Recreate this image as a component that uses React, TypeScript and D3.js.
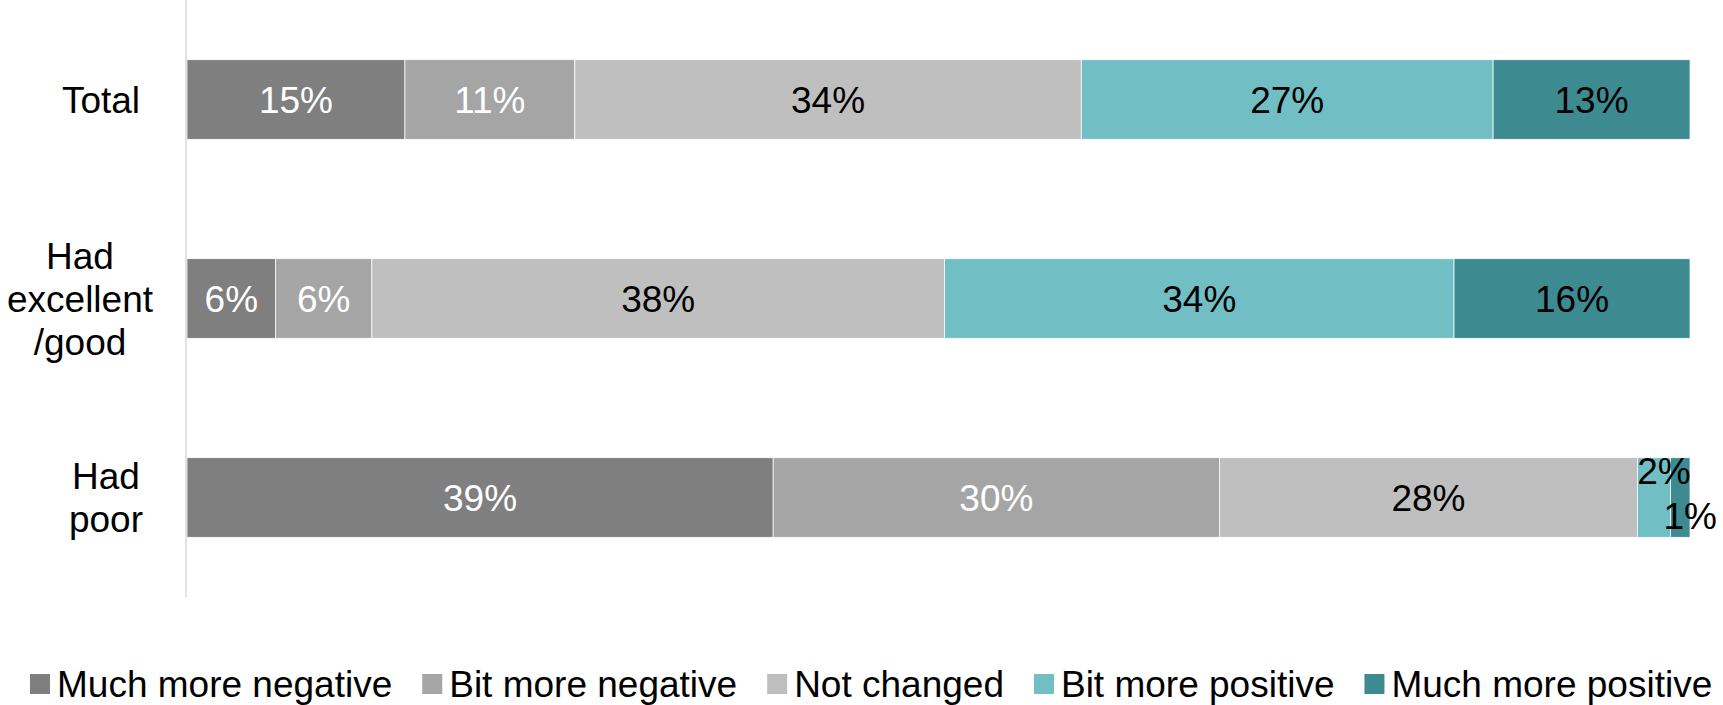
import React, { useMemo } from "react";
import * as d3 from "d3";

const categories = ["Total", "Had excellent/good", "Had poor"];
const categoryLines = [["Total"], ["Had", "excellent", "/good"], ["Had", "poor"]];
const seriesNames = [
  "Much more negative",
  "Bit more negative",
  "Not changed",
  "Bit more positive",
  "Much more positive",
];
const muchMoreNegative = [14.5, 5.9, 39.0];
const bitMoreNegative = [11.3, 6.4, 29.7];
const notChanged = [33.7, 38.1, 27.8];
const bitMorePositive = [27.4, 33.9, 2.2];
const muchMorePositive = [13.1, 15.7, 1.3];
const colors = ["#7f7f7f", "#a5a5a5", "#bfbfbf", "#72bec5", "#3d8a91"];
const labelColors = ["#ffffff", "#ffffff", "#000000", "#000000", "#000000"];

const W = 1723;
const H = 705;
const FONT = "'Liberation Sans', Arial, sans-serif";
const FS = 37;

export default function App() {
  const seriesValues = [muchMoreNegative, bitMoreNegative, notChanged, bitMorePositive, muchMorePositive];
  const rows = categories.map((c, i) => {
    const r: any = { cat: c };
    seriesNames.forEach((s, j) => (r[s] = seriesValues[j][i]));
    return r;
  });
  const stack = d3.stack().keys(seriesNames)(rows as any);

  const x = d3.scaleLinear().domain([0, 100]).range([187, 1690]);
  const y = d3.scaleBand().domain(categories).range([0, 597]).paddingInner(0.6).paddingOuter(0.3);

  const legendWidths = useMemo(() => {
    const ctx = document.createElement("canvas").getContext("2d");
    if (!ctx) return seriesNames.map((s) => s.length * 18);
    ctx.font = `${FS}px ${FONT}`;
    return seriesNames.map((s) => ctx.measureText(s).width);
  }, []);

  const legendX: number[] = [];
  let lx = 30;
  seriesNames.forEach((_, i) => {
    legendX.push(lx);
    lx += 20 + 7 + legendWidths[i] + 30;
  });

  // per-label nudges for tiny segments (category index 2, series 3 and 4)
  const nudge = (si: number, ci: number) => {
    if (ci === 2 && si === 3) return { dx: 10, dy: -27 };
    if (ci === 2 && si === 4) return { dx: 10, dy: 18 };
    return { dx: 0, dy: 0 };
  };

  const lineCenters = [101, 80, 106];

  return (
    <svg width={W} height={H} style={{ position: "absolute", left: 0, top: 0, background: "#fff" }} fontFamily={FONT}>
      {stack.map((s, si) => (
        <g key={s.key} fill={colors[si]}>
          {s.map((d, ci) => (
            <rect
              key={ci}
              x={x(d[0])}
              y={y(categories[ci])!}
              width={x(d[1]) - x(d[0])}
              height={y.bandwidth()}
              stroke="#ffffff"
              strokeWidth={0.75}
            />
          ))}
        </g>
      ))}
      <line x1={186} x2={186} y1={0} y2={597} stroke="#d9d9d9" strokeWidth={1.5} />
      {stack.map((s, si) => (
        <g key={"l" + s.key}>
          {s.map((d, ci) => {
            const n = nudge(si, ci);
            const cy = y(categories[ci])! + y.bandwidth() / 2;
            return (
              <text
                key={ci}
                x={(x(d[0]) + x(d[1])) / 2 + n.dx}
                y={cy + n.dy}
                dy="0.36em"
                textAnchor="middle"
                fontSize={FS}
                fill={labelColors[si]}
              >
                {Math.round(d[1] - d[0])}%
              </text>
            );
          })}
        </g>
      ))}
      {categoryLines.map((lines, ci) => {
        const cy = y(categories[ci])! + y.bandwidth() / 2;
        const lh = 43.3;
        const start = cy - ((lines.length - 1) * lh) / 2;
        return (
          <text key={ci} textAnchor="middle" fontSize={FS} fill="#000">
            {lines.map((ln, li) => (
              <tspan key={li} x={lineCenters[ci]} y={start + li * lh} dy="0.36em">
                {ln}
              </tspan>
            ))}
          </text>
        );
      })}
      {seriesNames.map((s, i) => (
        <g key={"lg" + i}>
          <rect x={legendX[i]} y={674} width={20} height={20} fill={colors[i]} />
          <text x={legendX[i] + 27} y={684} dy="0.36em" fontSize={FS} fill="#000">
            {s}
          </text>
        </g>
      ))}
    </svg>
  );
}
